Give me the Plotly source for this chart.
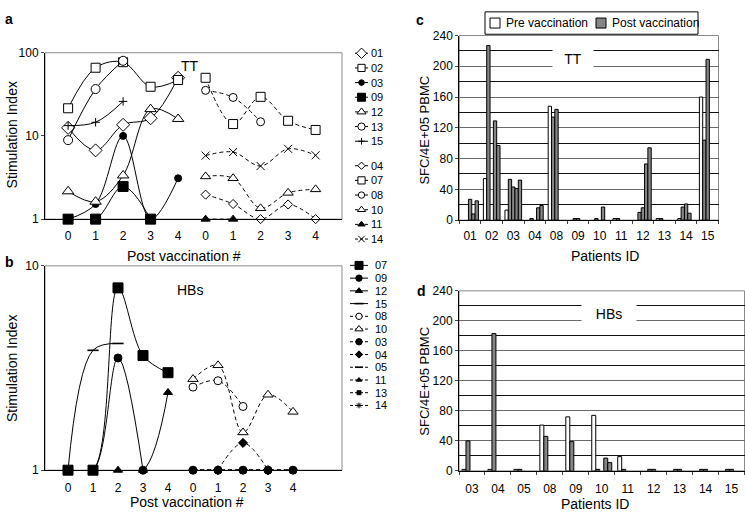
import plotly.graph_objects as go

W, H = 745, 520
def fx(x): return x / W
def fy(y): return 1 - y / H

FONT = "Liberation Sans"

# ---------------- data ----------------
post_ticks = ["0", "1", "2", "3", "4", "0", "1", "2", "3", "4"]

# Panel a (TT stimulation index)
a_solid_ids = ["01", "02", "03", "09", "12", "13", "15"]
a_dash_ids = ["04", "07", "08", "10", "11", "14"]
a_01 = [12.5, 6.7, 13.6, 16.3, 50]
a_02 = [21.5, 66, 77, 39, 47]
a_03 = [1, 1.52, 10, 1, 3.1]
a_09 = [1, 1, 2.47, 1, None]
a_12 = [2.16, 1.62, 3.35, 21, 16]
a_13 = [8.9, 36.6, 80, None, None]
a_15 = [13.3, 14.6, 26, None, None]
a_04 = [1.97, 1.52, 1.0, 1.5, 1.0]
a_07 = [50, 13.9, 29.5, 15.2, 11.8]
a_08 = [35.3, 29, 14.8, None, None]
a_10 = [3.26, 3.1, 1.35, 2.07, 2.28]
a_11 = [1, 1, None, None, None]
a_14 = [5.8, 6.4, 4.35, 7.0, 5.85]

# Panel b (HBs stimulation index)
b_solid_ids = ["07", "09", "12", "15"]
b_dash_ids = ["08", "10", "03", "04", "05", "11", "13", "14"]
b_07 = [1, 1, 7.8, 3.64, 3.0]
b_09 = [1, 1, 3.54, 1, None]
b_12 = [None, None, 1, 1, 2.4]
b_15 = [1, 3.86, 4.17, None, None]
b_08 = [2.55, 2.74, 2.05, None, None]
b_10 = [2.79, 3.26, 1.53, 2.34, 1.93]
b_03 = [1, 1, 1, 1, 1]
b_04 = [None, 1, 1.36, 1, None]
b_05 = [1, 1, 1, 1, 1]
b_11 = [1, 1, 1, 1, 1]
b_13 = [1, 1, 1, 1, 1]
b_14 = [1, 1, 1, 1, 1]

# Panel c (TT ELISpot)
c_patients = ["01", "02", "03", "04", "08", "09", "10", "11", "12", "13", "14", "15"]
c_pre = [None, 54, 13, None, 148, None, None, 2, None, 2, 2, 160]
c_post1 = [None, 227, 53, 2, 134, 2, 2, 2, 10, 2, 17, 104]
c_post2 = [27, None, 43, None, 144, 2, None, None, 16, None, 21, 209]
c_post3 = [8, 129, 41, 16, None, None, 17, None, 73, None, 9, None]
c_post4 = [25, 97, 52, 19, None, None, None, None, 94, None, None, None]

# Panel d (HBs ELISpot)
d_patients = ["03", "04", "05", "08", "09", "10", "11", "12", "13", "14", "15"]
d_pre = [2, 2, 2, 61, 72, 74, 19, None, None, None, None]
d_post1 = [40, 183, 2, 46, 39, 2, 2, 2, 2, 2, 2]
d_post2 = [None, None, None, None, None, None, None, 2, 2, 2, 2]
d_post3 = [None, None, None, None, None, 17, None, None, None, None, None]
d_post4 = [None, None, None, None, None, 11, None, None, None, None, None]

bar_legend_names = ["Pre vaccination", "Post vaccination"]

# ---------------- styles ----------------
a_style = {
    "01": ("diamond", 10, "white"), "02": ("square", 9, "white"),
    "03": ("circle", 7, "black"), "09": ("square", 10, "black"),
    "12": ("triangle-up", 10, "white"), "13": ("circle", 9, "white"),
    "15": ("cross-thin", 6, "black"), "04": ("diamond", 7, "white"),
    "07": ("square", 9, "white"), "08": ("circle", 8, "white"),
    "10": ("triangle-up", 9, "white"), "11": ("triangle-up", 8, "black"),
    "14": ("x-thin", 8, "black"),
}
b_style = {
    "07": ("square", 10, "black"), "09": ("circle", 8, "black"),
    "12": ("triangle-up", 8, "black"), "15": ("line-ew", 8, "black"),
    "08": ("circle", 8, "white"), "10": ("triangle-up", 9, "white"),
    "03": ("circle", 8, "black"), "04": ("diamond", 7, "black"),
    "05": ("line-ew", 7, "black"), "11": ("triangle-up", 6, "black"),
    "13": ("square", 5, "black"), "14": ("asterisk", 6, "black"),
}
a_data = {"01": a_01, "02": a_02, "03": a_03, "09": a_09, "12": a_12, "13": a_13,
          "15": a_15, "04": a_04, "07": a_07, "08": a_08, "10": a_10, "11": a_11, "14": a_14}
b_data = {"07": b_07, "09": b_09, "12": b_12, "15": b_15, "08": b_08, "10": b_10,
          "03": b_03, "04": b_04, "05": b_05, "11": b_11, "13": b_13, "14": b_14}

DASH = "4px,3px"
GRAY = "#858585"
fig = go.Figure()

def marker(st, scale=1.0):
    sym, size, fill = st
    return dict(symbol=sym, size=max(4, size * scale), color=fill,
                line=dict(color="black", width=1.6 if sym == "line-ew" else 1))

def add_series(ids, data, style, x0, dash, xa, ya):
    for sid in ids:
        xs = [x0 + i for i in range(len(data[sid]))]
        fig.add_trace(go.Scatter(
            x=xs, y=data[sid], xaxis=xa, yaxis=ya, mode="lines+markers",
            line=dict(color="black", width=1, dash=dash, shape="spline", smoothing=1.0),
            marker=marker(style[sid]), cliponaxis=False, showlegend=False,
            connectgaps=False, hoverinfo="skip"))

add_series(a_solid_ids, a_data, a_style, 0, "solid", "x", "y")
add_series(a_dash_ids, a_data, a_style, 5, DASH, "x", "y")
add_series(b_solid_ids, b_data, b_style, 0, "solid", "x2", "y2")
add_series(b_dash_ids, b_data, b_style, 5, DASH, "x2", "y2")

# manual compact legends (row index per entry, drawn on helper axes)
def add_legend(ids, dash_ids, style, xa, ya, gap, lab_shift, font_size):
    extra = 0
    for i, sid in enumerate(ids):
        if sid == dash_ids[0]:
            extra = gap
        r = i + extra
        d = "3px,2px" if sid in dash_ids else "solid"
        fig.add_trace(go.Scatter(x=[0, 1], y=[r, r], xaxis=xa, yaxis=ya, mode="lines",
                                 line=dict(color="black", width=1, dash=d),
                                 showlegend=False, hoverinfo="skip", cliponaxis=False))
        fig.add_trace(go.Scatter(x=[0.5], y=[r], xaxis=xa, yaxis=ya, mode="markers",
                                 marker=marker(style[sid], 0.8), showlegend=False,
                                 hoverinfo="skip", cliponaxis=False))
        fig.add_annotation(x=1, y=r, xref=xa, yref=ya, text=sid, showarrow=False,
                           xanchor="left", yanchor="middle", xshift=lab_shift,
                           font=dict(family=FONT, size=font_size, color="black"))

add_legend(a_solid_ids + a_dash_ids, a_dash_ids, a_style, "x5", "y5", 0.67, 1, 11)
add_legend(b_solid_ids + b_dash_ids, b_dash_ids, b_style, "x6", "y6", 0, 5, 11)

# bars
def add_bars(cats, series, xa, ya):
    for k, vals in enumerate(series):
        fig.add_trace(go.Bar(
            x=cats, y=vals, xaxis=xa, yaxis=ya,
            marker=dict(color="white" if k == 0 else GRAY, line=dict(color="black", width=1)),
            showlegend=False, offsetgroup=str(k), hoverinfo="skip"))

add_bars(c_patients, [c_pre, c_post1, c_post2, c_post3, c_post4], "x3", "y3")
add_bars(d_patients, [d_pre, d_post1, d_post2, d_post3, d_post4], "x4", "y4")

# bar legend (boxed, drawn on a helper axis whose units are pixels inside the box)
for k, name in enumerate(bar_legend_names):
    x0 = 10 + k * 106
    fig.add_trace(go.Scatter(x=[x0], y=[0.5], xaxis="x7", yaxis="y7", mode="markers",
                             marker=dict(symbol="square", size=10, color="white" if k == 0 else GRAY,
                                         line=dict(color="black", width=1)),
                             showlegend=False, hoverinfo="skip", cliponaxis=False))
    fig.add_annotation(x=x0 + 9, y=0.5, xref="x7", yref="y7", text=name, showarrow=False,
                       xanchor="left", yanchor="middle",
                       font=dict(family=FONT, size=12, color="black"))

tickfont = dict(family=FONT, size=12, color="black")

def line_axis(dom, anchor, **kw):
    d = dict(domain=dom, anchor=anchor, showline=True, linecolor="black",
             linewidth=1, showgrid=False, zeroline=False, tickfont=tickfont)
    d.update(kw)
    return d

grid = dict(showgrid=True, gridcolor="#6a6a6a", gridwidth=1,
            minor=dict(dtick=20, showgrid=True, gridcolor="#111111", gridwidth=1))

B_TOP = 266
layout = dict(
    width=W, height=H, margin=dict(l=0, r=0, t=0, b=0),
    paper_bgcolor="white", plot_bgcolor="white",
    font=dict(family=FONT, size=12, color="black"),
    barmode="group", bargap=0.23, bargroupgap=0,
    showlegend=False,
    xaxis=line_axis([fx(45), fx(342)], "y", range=[-0.84, 9.96], tickvals=list(range(10)),
                    ticktext=post_ticks, ticks="", ticklabelstandoff=5),
    yaxis=line_axis([fy(218), fy(47)], "x", range=[0, 2], type="log", tickvals=[1, 10, 100],
                    ticktext=["1", "10", "100"], ticks="outside", ticklen=3),
    xaxis2=line_axis([fx(45), fx(342)], "y2", range=[-0.92, 10.96], tickvals=list(range(10)),
                     ticktext=post_ticks, ticks="", ticklabelstandoff=6),
    yaxis2=line_axis([fy(476), fy(B_TOP)], "x2", range=[0, 1], type="log", tickvals=[1, 10],
                     ticktext=["1", "10"], ticks="outside", ticklen=3),
    xaxis3=line_axis([fx(459.3), fx(718.5)], "y3", type="category", tickangle=0,
                     ticks="outside", tickson="boundaries", ticklen=3, ticklabelstandoff=4),
    yaxis3=line_axis([fy(219), fy(29.3)], "x3", range=[0, 240], dtick=40, ticks="outside",
                     ticklen=3, **grid),
    xaxis4=line_axis([fx(459), fx(744.5)], "y4", type="category", tickangle=0,
                     ticks="outside", tickson="boundaries", ticklen=3, ticklabelstandoff=7),
    yaxis4=line_axis([fy(476.7), fy(291.7)], "x4", range=[0, 240], dtick=40, ticks="outside",
                     ticklen=3, **grid),
    xaxis5=dict(domain=[fx(355), fx(368)], range=[0, 1], visible=False, anchor="y5"),
    yaxis5=dict(domain=[fy(246), fy(40)], range=[13.17, -0.5], visible=False, anchor="x5"),
    xaxis6=dict(domain=[fx(350), fx(368)], range=[0, 1], visible=False, anchor="y6"),
    yaxis6=dict(domain=[fy(416), fy(259)], range=[11.5, -0.5], visible=False, anchor="x6"),
    xaxis7=dict(domain=[fx(485), fx(698)], range=[0, 213], visible=False, anchor="y7"),
    yaxis7=dict(domain=[fy(28), fy(5)], range=[0, 1], visible=False, anchor="x7"),
)
fig.update_layout(**layout)

# frames (gray top/right borders)
for xa, ya in (("x", "y"), ("x2", "y2"), ("x3", "y3"), ("x4", "y4")):
    fig.add_shape(type="rect", xref=xa + " domain", yref=ya + " domain", x0=0, x1=1, y0=0, y1=1,
                  line=dict(color="#8a8a8a", width=1), layer="below")
fig.add_shape(type="rect", xref="x7 domain", yref="y7 domain", x0=0, x1=1, y0=0, y1=1,
              line=dict(color="black", width=1), fillcolor="white", layer="below")

def text(x, y, s, size=14, bold=False, angle=0, **kw):
    fig.add_annotation(x=fx(x), y=fy(y), xref="paper", yref="paper",
                       text=f"<b>{s}</b>" if bold else s, showarrow=False, textangle=angle,
                       xanchor="center", yanchor="middle",
                       font=dict(family=FONT, size=size, color="black"), **kw)

# panel letters
text(9, 12, "a", 14, True)
text(9, 262, "b", 14, True)
text(420, 13, "c", 14, True)
text(421, 292, "d", 14, True)
# axis titles
text(12, 132, "Stimulation Index", 14, angle=-90)
text(12, 372, "Stimulation Index", 14, angle=-90)
text(184, 256, "Post vaccination #", 14)
text(187, 509, "Post vaccination #", 14)
text(425, 126, "SFC/4E+05 PBMC", 13, angle=-90)
text(425, 384, "SFC/4E+05 PBMC", 13, angle=-90)
text(605, 256, "Patients ID", 14)
text(595, 511, "Patients ID", 14)
# in-plot labels
text(190, 61, "TT", 14)
text(190, 291, "HBs", 14)
text(573, 53, "TT", 14, bgcolor="white", width=38, height=22)
text(609, 315, "HBs", 14, bgcolor="white", width=52, height=22)

fig.write_html("out.html", config={"displayModeBar": False},
               post_script="document.body.style.margin='0px';")
